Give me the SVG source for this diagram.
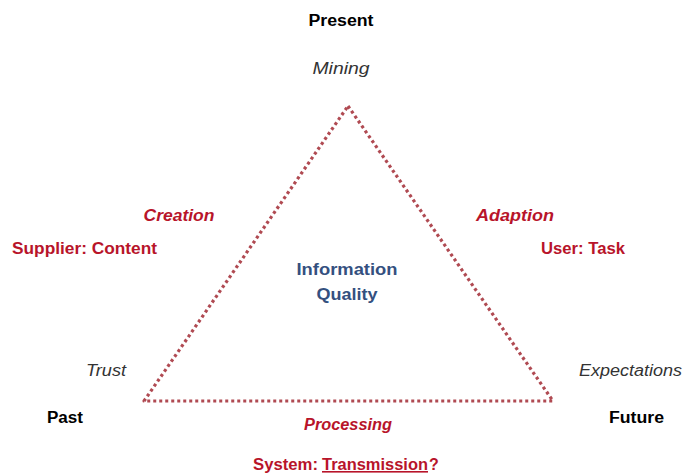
<svg xmlns="http://www.w3.org/2000/svg" width="683" height="475" viewBox="0 0 683 475">
<style>
text{font-family:"Liberation Sans",Arial,sans-serif;font-size:16px}
.b{font-weight:bold;fill:#000}
.i{font-style:italic;fill:#333}
.r{font-weight:bold;fill:#b8142a}
.ri{font-weight:bold;font-style:italic;fill:#b8142a}
.q{font-weight:bold;fill:#34507f}
.tri{fill:none;stroke:#b04a52;stroke-width:3.2;stroke-dasharray:3 3;stroke-linejoin:round}
</style>
<rect width="683" height="475" fill="#fff"/>
<g id="connectors">
<path class="tri" d="M348,106 L553,401 L144,401 Z"/>
</g>
<g id="present"><text class="b" x="341" y="26" text-anchor="middle" textLength="65" lengthAdjust="spacingAndGlyphs">Present</text></g>
<g id="mining"><text class="i" x="341" y="74" text-anchor="middle" textLength="57" lengthAdjust="spacingAndGlyphs">Mining</text></g>
<g id="creation"><text class="ri" x="179" y="221" text-anchor="middle" textLength="71" lengthAdjust="spacingAndGlyphs">Creation</text></g>
<g id="supplier"><text class="r" x="12" y="254" textLength="145" lengthAdjust="spacingAndGlyphs">Supplier: Content</text></g>
<g id="adaption"><text class="ri" x="476" y="221" textLength="78" lengthAdjust="spacingAndGlyphs">Adaption</text></g>
<g id="user"><text class="r" x="541" y="254" textLength="84" lengthAdjust="spacingAndGlyphs">User: Task</text></g>
<g id="iq">
<text class="q" x="347" y="275" text-anchor="middle" textLength="101" lengthAdjust="spacingAndGlyphs">Information</text>
<text class="q" x="347" y="300" text-anchor="middle" textLength="61" lengthAdjust="spacingAndGlyphs">Quality</text>
</g>
<g id="trust"><text class="i" x="86" y="376" textLength="40" lengthAdjust="spacingAndGlyphs">Trust</text></g>
<g id="past"><text class="b" x="47" y="423" textLength="36" lengthAdjust="spacingAndGlyphs">Past</text></g>
<g id="expectations"><text class="i" x="579" y="376" textLength="103" lengthAdjust="spacingAndGlyphs">Expectations</text></g>
<g id="future"><text class="b" x="609" y="423" textLength="55" lengthAdjust="spacingAndGlyphs">Future</text></g>
<g id="processing"><text class="ri" x="304" y="430" textLength="88" lengthAdjust="spacingAndGlyphs">Processing</text></g>
<g id="system">
<text class="r" x="253" y="470"><tspan textLength="65" lengthAdjust="spacingAndGlyphs">System:</tspan><tspan x="322" text-decoration="underline" textLength="106" lengthAdjust="spacingAndGlyphs">Transmission</tspan><tspan x="429">?</tspan></text>
</g>
</svg>
